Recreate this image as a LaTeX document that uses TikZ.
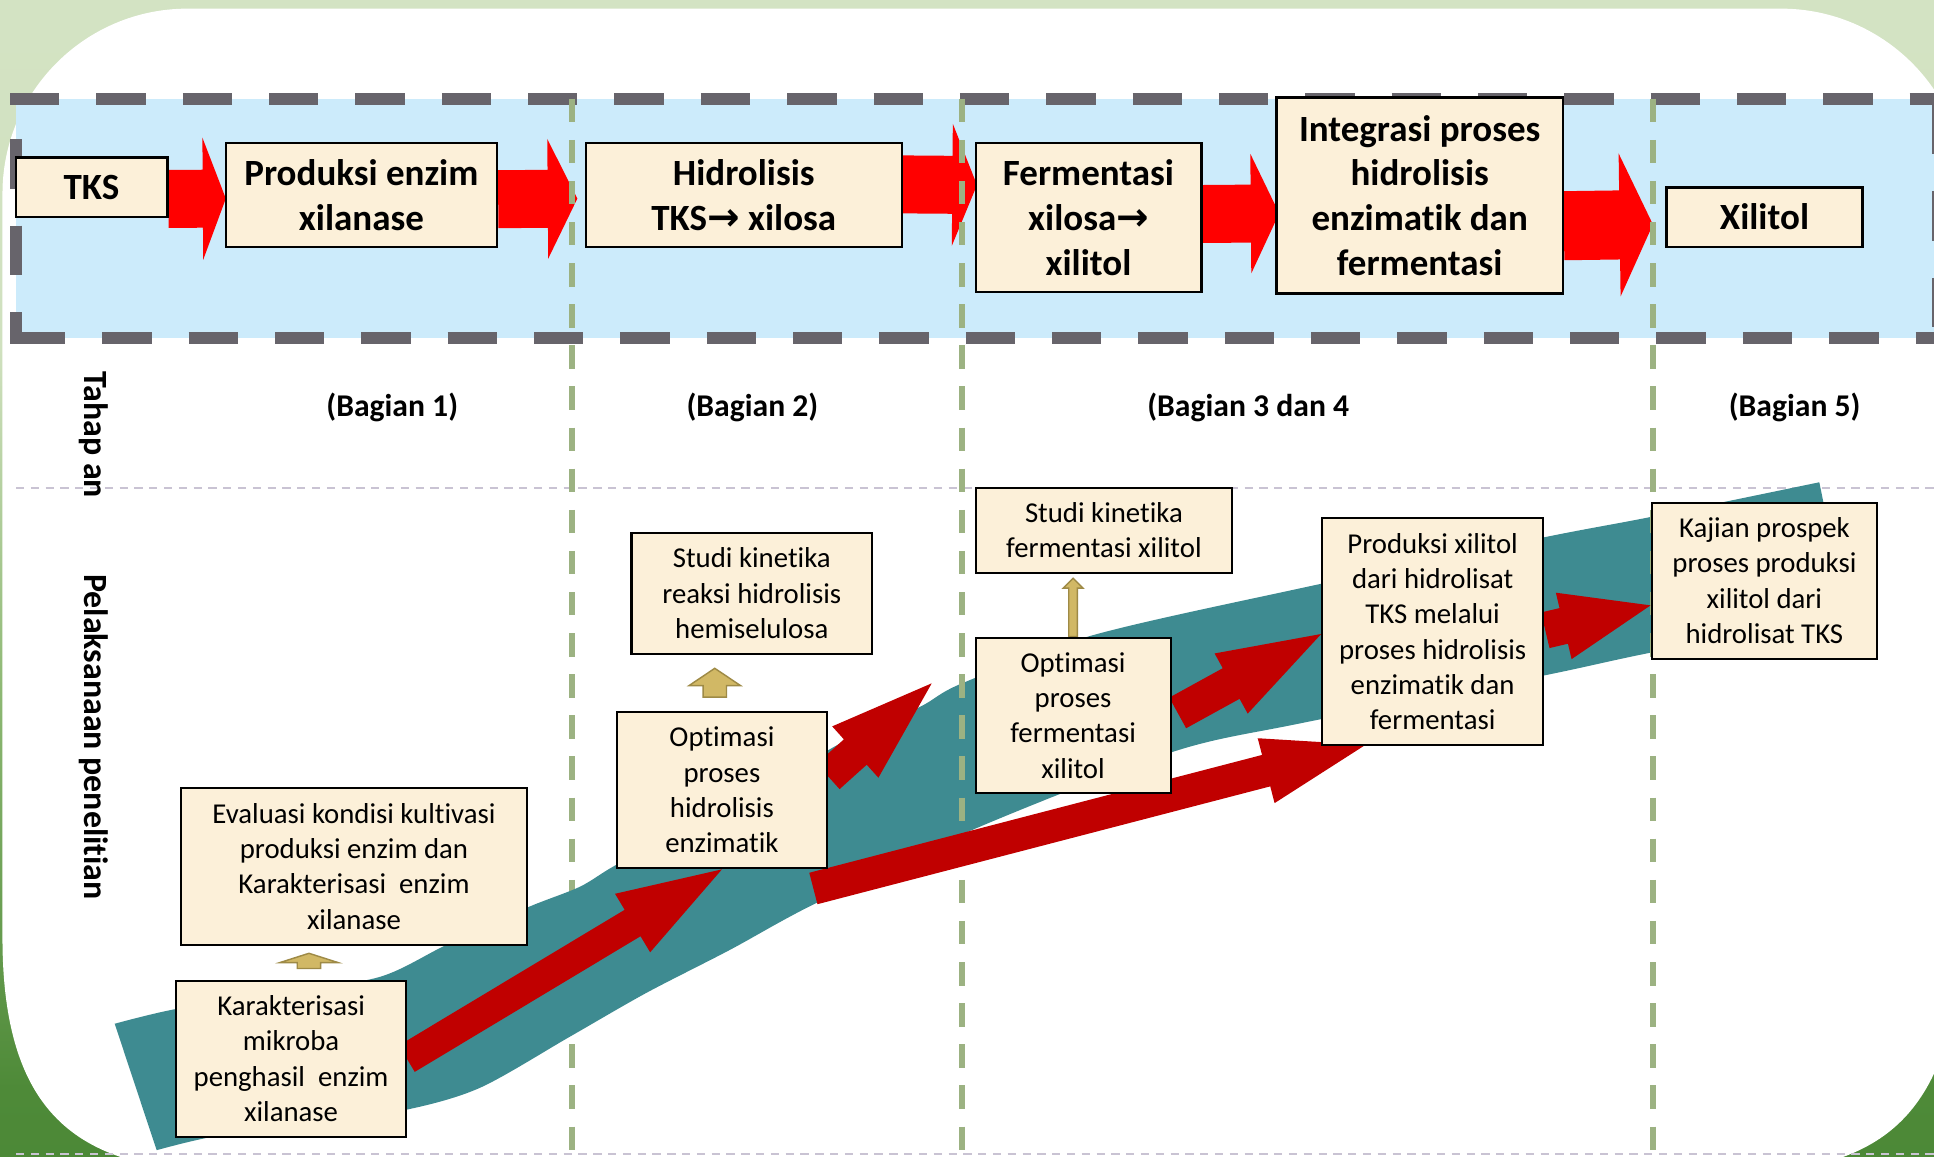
\documentclass[tikz,border=0pt]{standalone}
\usepackage{fontspec}
\setmainfont{Carlito}[Ligatures=NoCommon]
\newfontfamily\arrowfont[Scale=1.05]{DejaVu Sans}
\usetikzlibrary{calc}
\definecolor{bgtop}{HTML}{D9E6CA}
\definecolor{bgpale}{HTML}{D0E1BF}
\definecolor{bgmid}{HTML}{8DB873}
\definecolor{bglow}{HTML}{4E8A38}
\definecolor{bgbot}{HTML}{3D7D2C}
\definecolor{bandblue}{HTML}{CCEBFB}
\definecolor{banddash}{HTML}{67646B}
\definecolor{gline}{HTML}{9CB282}
\definecolor{gdash}{HTML}{C9C3D3}
\definecolor{tealband}{HTML}{3E8B91}
\definecolor{toparrow}{HTML}{FF0000}
\definecolor{lowarrow}{HTML}{C00000}
\definecolor{tanfill}{HTML}{D1B865}
\definecolor{tanline}{HTML}{9E8A46}
\definecolor{boxfill}{HTML}{FCF0D9}
\pgfdeclareverticalshading{bgshade}{100bp}{color(0bp)=(bgbot); color(28bp)=(bglow); color(45bp)=(bgmid); color(60bp)=(bgpale); color(100bp)=(bgtop)}
\pgfdeclarelayer{lA}
\pgfdeclarelayer{lB}
\pgfdeclarelayer{lC}
\pgfdeclarelayer{lD}
\pgfdeclarelayer{lE}
\pgfdeclarelayer{lF}
\pgfsetlayers{lA,lB,lC,lD,lE,lF,main}
% #1 style, #2 start coordinate, #3 tip coordinate, #4 shaft half width, #5 head half width, #6 head length
\newcommand\blockarrow[6]{%
  \coordinate (bahead) at ($(#3)!#6!(#2)$);
  \path[#1] ($(#2)!#4!90:(#3)$) -- ($(bahead)!#4!90:(#3)$) -- ($(bahead)!#5!90:(#3)$) -- (#3)
    -- ($(bahead)!#5!-90:(#3)$) -- ($(bahead)!#4!-90:(#3)$) -- ($(#2)!#4!-90:(#3)$) -- cycle;
}
\begin{document}
\begin{tikzpicture}[x=0.6pt,y=-0.6pt,
  sz/.style 2 args={minimum width=#1*0.6pt, minimum height=#2*0.6pt},
  topbox/.style={draw=black, line width=1.1pt, fill=boxfill, align=center, inner sep=0pt,
    font=\fontsize{18}{21.8}\selectfont\bfseries},
  lowbox/.style={draw=black, line width=1pt, fill=boxfill, align=center, inner sep=0pt,
    font=\fontsize{14}{17.2}\selectfont},
  bagian/.style={font=\fontsize{15.4}{18}\selectfont\bfseries},
  sidelabel/.style={font=\fontsize{16.5}{20}\selectfont\bfseries, rotate=-90},
  bandline/.style={draw=banddash, line width=5.8pt, dash pattern=on 24pt off 18pt},
  greenline/.style={draw=gline, line width=2.9pt, dash pattern=on 11.4pt off 8.6pt},
  grayline/.style={draw=gdash, line width=1pt, dash pattern=on 4pt off 3.2pt},
  toparr/.style={fill=toparrow},
  lowarr/.style={fill=lowarrow},
  tanarr/.style={fill=tanfill, draw=tanline, line width=0.7pt, line join=miter},
]
\useasboundingbox (0,0) rectangle (1568,938);

% ---------- boxes ----------
\node[topbox, sz={123}{48.4}] (tks) at (74.2,151.8) {TKS};
\node[topbox, sz={220}{84}] (prod) at (293,158) {Produksi enzim\\xilanase};
\node[topbox, sz={256}{84}] (hid) at (603,158) {Hidrolisis\\TKS{\arrowfont →} xilosa};
\node[topbox, sz={183}{121}] (fer) at (882.5,176.5) {Fermentasi\\xilosa{\arrowfont →}\\xilitol};
\node[topbox, sz={232}{159}] (integ) at (1151,158.5) {Integrasi proses\\hidrolisis\\enzimatik dan\\fermentasi};
\node[topbox, sz={159}{48}] (xil) at (1430.5,176) {Xilitol};

\node[lowbox, sz={280}{127.5}] (eval) at (287,702.3) {Evaluasi kondisi kultivasi\\produksi enzim dan\\Karakterisasi\ \ enzim\\xilanase};
\node[lowbox, sz={186}{126.5}] (kar) at (236,858.3) {Karakterisasi\\mikroba\\penghasil\ \ enzim\\xilanase};
\node[lowbox, sz={195}{98}] (stur) at (609.5,481) {Studi kinetika\\reaksi hidrolisis\\hemiselulosa};
\node[lowbox, sz={170.6}{127}] (opth) at (585.3,640.5) {Optimasi\\proses\\hidrolisis\\enzimatik};
\node[lowbox, sz={208}{69}] (stuf) at (895,430) {Studi kinetika\\fermentasi xilitol};
\node[lowbox, sz={158}{126}] (optf) at (870,580) {Optimasi\\proses\\fermentasi\\xilitol};
\node[lowbox, sz={179}{184}] (prx) at (1161.5,512) {Produksi xilitol\\dari hidrolisat\\TKS melalui\\proses hidrolisis\\enzimatik dan\\fermentasi};
\node[lowbox, sz={183}{126.4}] (kaj) at (1430.5,470.8) {Kajian prospek\\proses produksi\\xilitol dari\\hidrolisat TKS};

% ---------- labels ----------
\node[bagian] (b1) at (318,330) {(Bagian 1)};
\node[bagian] (b2) at (610,330) {(Bagian 2)};
\node[bagian] (b3) at (1012,330) {(Bagian 3 dan 4};
\node[bagian] (b5) at (1455,330) {(Bagian 5)};
\node[sidelabel] (tahap) at (76,352.5) {Tahap an};
\node[sidelabel] (pelak) at (76,597.5) {Pelaksanaan penelitian};

% ---------- background layer ----------
\begin{pgfonlayer}{lA}
  \shade[shading=bgshade] (0,0) rectangle (1568,938);
  \fill[white] (2,157) .. controls (2,74.2) and (69.2,7) .. (152,7) -- (1444,7)
    .. controls (1526.8,7) and (1594,74.2) .. (1594,157) -- (1594,700)
    .. controls (1594,860) and (1560,925) .. (1470,945) -- (125,945)
    .. controls (45,930) and (2,880) .. (2,760) -- cycle;
  \fill[bandblue] (13,80) rectangle (1571,274);
  \draw[bandline] (8.2,80) -- (1576,80);
  \draw[bandline] (13,113) -- (13,279);
  \draw[bandline] (13,274) -- (1576,274);
  \draw[bandline] (1571,85) -- (1571,279);
  \draw[grayline] (13,395.6) -- (1568,395.6);
  \draw[grayline] (13,935.6) -- (1568,935.6);
\end{pgfonlayer}

% ---------- top red arrows ----------
\coordinate (a1s) at ($(tks.east)+(0,9.5)$);
\coordinate (a1e) at ($(prod.west)+(1,3)$);
\coordinate (a2s) at ($(prod.east)+(0,3.5)$);
\coordinate (a2e) at ($(hid.west)+(-6,3)$);
\coordinate (a3s) at ($(hid.east)+(0,-8.5)$);
\coordinate (a3e) at ($(fer.west)+(2,-26.5)$);
\coordinate (a4s) at ($(fer.east)+(0,-3)$);
\coordinate (a4e) at ($(integ.west)+(3,14.5)$);
\coordinate (a5s) at ($(integ.east)+(0,24.5)$);
\coordinate (a5e) at ($(xil.west)+(-10,6)$);
\begin{pgfonlayer}{lB}
  \blockarrow{toparr}{a1s}{a1e}{14.1pt}{29.7pt}{11.2pt}
  \blockarrow{toparr}{a2s}{a2e}{14.1pt}{29.1pt}{14.4pt}
  \blockarrow{toparr}{a3s}{a3e}{14.1pt}{29.7pt}{12pt}
  \blockarrow{toparr}{a4s}{a4e}{14.1pt}{29.1pt}{13.8pt}
  \blockarrow{toparr}{a5s}{a5e}{16.8pt}{34.8pt}{16.2pt}
\end{pgfonlayer}

% ---------- green separators ----------
\begin{pgfonlayer}{lC}
  \draw[greenline] (464,80) -- (464,940);
\end{pgfonlayer}
\begin{pgfonlayer}{lE}
  \draw[greenline] (780,80) -- (780,940);
  \draw[greenline] (1340,80) -- (1340,940);
\end{pgfonlayer}

% ---------- teal ribbon ----------
\begin{pgfonlayer}{lD}
  \fill[tealband] plot[smooth,tension=0.5] coordinates {(93,830) (143,818) (230,805) (308,792) (362,766) (427,736) (470,719) (500,701) (560,671) (620,638) (690,598) (746,573) (780,554) (886,515) (1054,477) (1250,436) (1339,419) (1475,391)}
    -- plot[smooth,tension=0.5] coordinates {(1497,499) (1339,529) (1250,548) (1054,586.5) (951,609.5) (795,670) (662,732) (592,770) (524,805) (462,840.5) (389,882) (328,900) (250,911) (173,921.5) (127,932.5)}
    -- cycle;
\end{pgfonlayer}

% ---------- lower arrows ----------
\coordinate (r1s) at (kar.east);
\coordinate (r1e) at (opth.south);
\coordinate (r2s) at ($(opth.east)+(0,-11)$);
\coordinate (r2e) at (755.4,554);
\coordinate (r3s) at ($(opth.south east)+(-12,15.5)$);
\coordinate (r3e) at ($(prx.south west)+(36,-1)$);
\coordinate (r4s) at ($(optf.east)+(5,-2)$);
\coordinate (r4e) at ($(prx.west)+(0,2)$);
\coordinate (r5s) at ($(prx.east)+(1,-1)$);
\coordinate (r5e) at ($(kaj.west)+(0,20)$);
\coordinate (t1s) at ($(kar.north)+(14.5,-9)$);
\coordinate (t1e) at ($(eval.south)+(-36.5,6)$);
\coordinate (t2s) at ($(opth.north)+(-5.8,-11)$);
\coordinate (t2e) at ($(stur.south)+(-30,11)$);
\coordinate (t3s) at (optf.north);
\coordinate (t3e) at ($(stuf.south)+(-25,3.5)$);
\begin{pgfonlayer}{lF}
  \blockarrow{lowarr}{r1s}{r1e}{7.5pt}{16.6pt}{50.7pt}
  \blockarrow{lowarr}{r2s}{r2e}{8.3pt}{16.8pt}{50pt}
  \blockarrow{lowarr}{r3s}{r3e}{7.9pt}{16.3pt}{50pt}
  \blockarrow{lowarr}{r4s}{r4e}{8.5pt}{16.7pt}{50pt}
  \blockarrow{lowarr}{r5s}{r5e}{8.9pt}{16.6pt}{43.4pt}
  \blockarrow{tanarr}{t1s}{t1e}{5.7pt}{14.1pt}{4.5pt}
  \blockarrow{tanarr}{t2s}{t2e}{5.7pt}{12.5pt}{8.4pt}
  \blockarrow{tanarr}{t3s}{t3e}{2.1pt}{4.8pt}{4.8pt}
\end{pgfonlayer}
\end{tikzpicture}
\end{document}
